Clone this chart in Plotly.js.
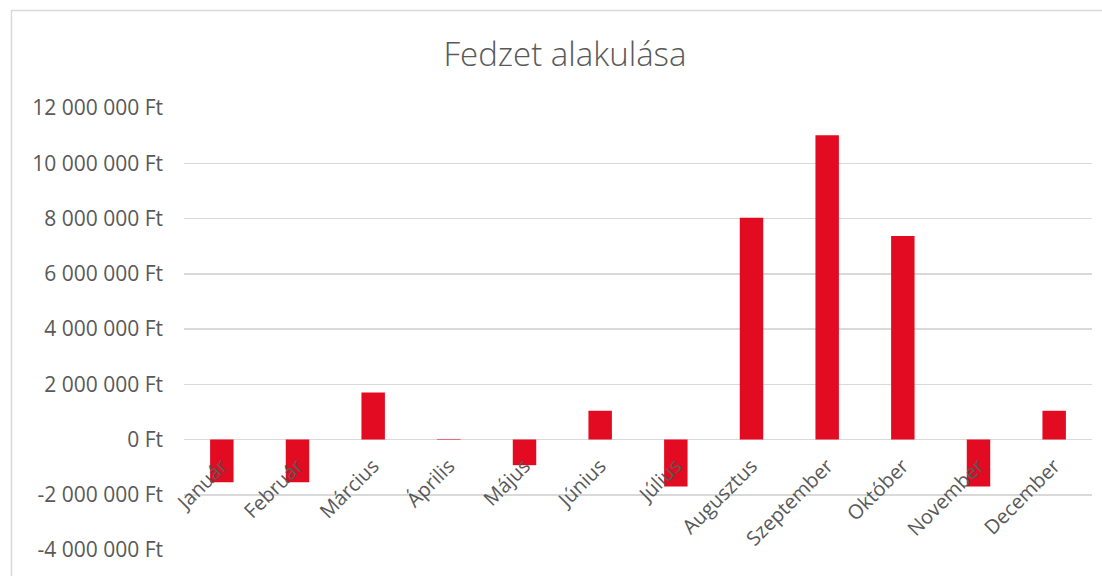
<!DOCTYPE html>
<html>
<head>
<meta charset="utf-8">
<script src="https://cdn.plot.ly/plotly-3.0.1.min.js"></script>
<style>
  html, body { margin: 0; padding: 0; background: #ffffff; }
  #chart { width: 1102px; height: 576px; }
</style>
</head>
<body>
<div id="chart"></div>
<script>
const chartTitle = "Fedzet alakulása";
const months = ["Január", "Február", "Március", "Április", "Május", "Június",
                "Július", "Augusztus", "Szeptember", "Október", "November", "December"];
const hedgeValues = [-1550000, -1550000, 1700000, 20000, -930000, 1040000,
                     -1700000, 8030000, 11010000, 7370000, -1700000, 1040000];
const yTickVals = [-4000000, -2000000, 0, 2000000, 4000000, 6000000, 8000000, 10000000, 12000000];
const yTickLabels = ["-4 000 000 Ft", "-2 000 000 Ft", "0 Ft", "2 000 000 Ft", "4 000 000 Ft",
                     "6 000 000 Ft", "8 000 000 Ft", "10 000 000 Ft", "12 000 000 Ft"];

const textColor = "#595959";
const gridColor = "#d9d9d9";
const barColor = "#e30b21";
const fontFamily = "'Open Sans', 'Noto Sans', sans-serif";

const trace = {
  type: "bar",
  x: months,
  y: hedgeValues,
  marker: { color: barColor },
  hoverinfo: "x+y"
};

const layout = {
  width: 1102,
  height: 576,
  margin: { l: 184, r: 10, t: 108, b: 26, autoexpand: false },
  paper_bgcolor: "#ffffff",
  plot_bgcolor: "#ffffff",
  showlegend: false,
  bargap: 0.69,
  title: {
    text: chartTitle,
    font: { family: fontFamily, size: 33, color: textColor, weight: 300 },
    xref: "container", x: 0.5127, xanchor: "center",
    yref: "container", y: 0.905, yanchor: "middle"
  },
  xaxis: {
    type: "category",
    anchor: "free",
    position: 0.25,
    showline: false,
    showgrid: false,
    zeroline: false,
    ticks: "",
    tickangle: -45,
    ticklabelstandoff: 10,
    tickfont: { family: fontFamily, size: 20, color: textColor },
    automargin: false
  },
  yaxis: {
    range: [-4000000, 12000000],
    tickmode: "array",
    tickvals: yTickVals,
    ticktext: yTickLabels,
    showgrid: true,
    gridcolor: gridColor,
    gridwidth: 1.5,
    zeroline: true,
    zerolinecolor: gridColor,
    zerolinewidth: 1.5,
    showline: false,
    ticks: "",
    ticklabelstandoff: 20,
    tickfont: { family: fontFamily, size: 21, color: textColor },
    automargin: false
  },
  shapes: [{
    type: "rect",
    xref: "paper", yref: "paper",
    x0: -0.19, x1: 1.03, y0: -0.2, y1: 1.2206,
    line: { color: gridColor, width: 1.5 },
    fillcolor: "rgba(0,0,0,0)",
    layer: "below"
  }]
};

Plotly.newPlot("chart", [trace], layout, { displayModeBar: false, staticPlot: true });
</script>
</body>
</html>
